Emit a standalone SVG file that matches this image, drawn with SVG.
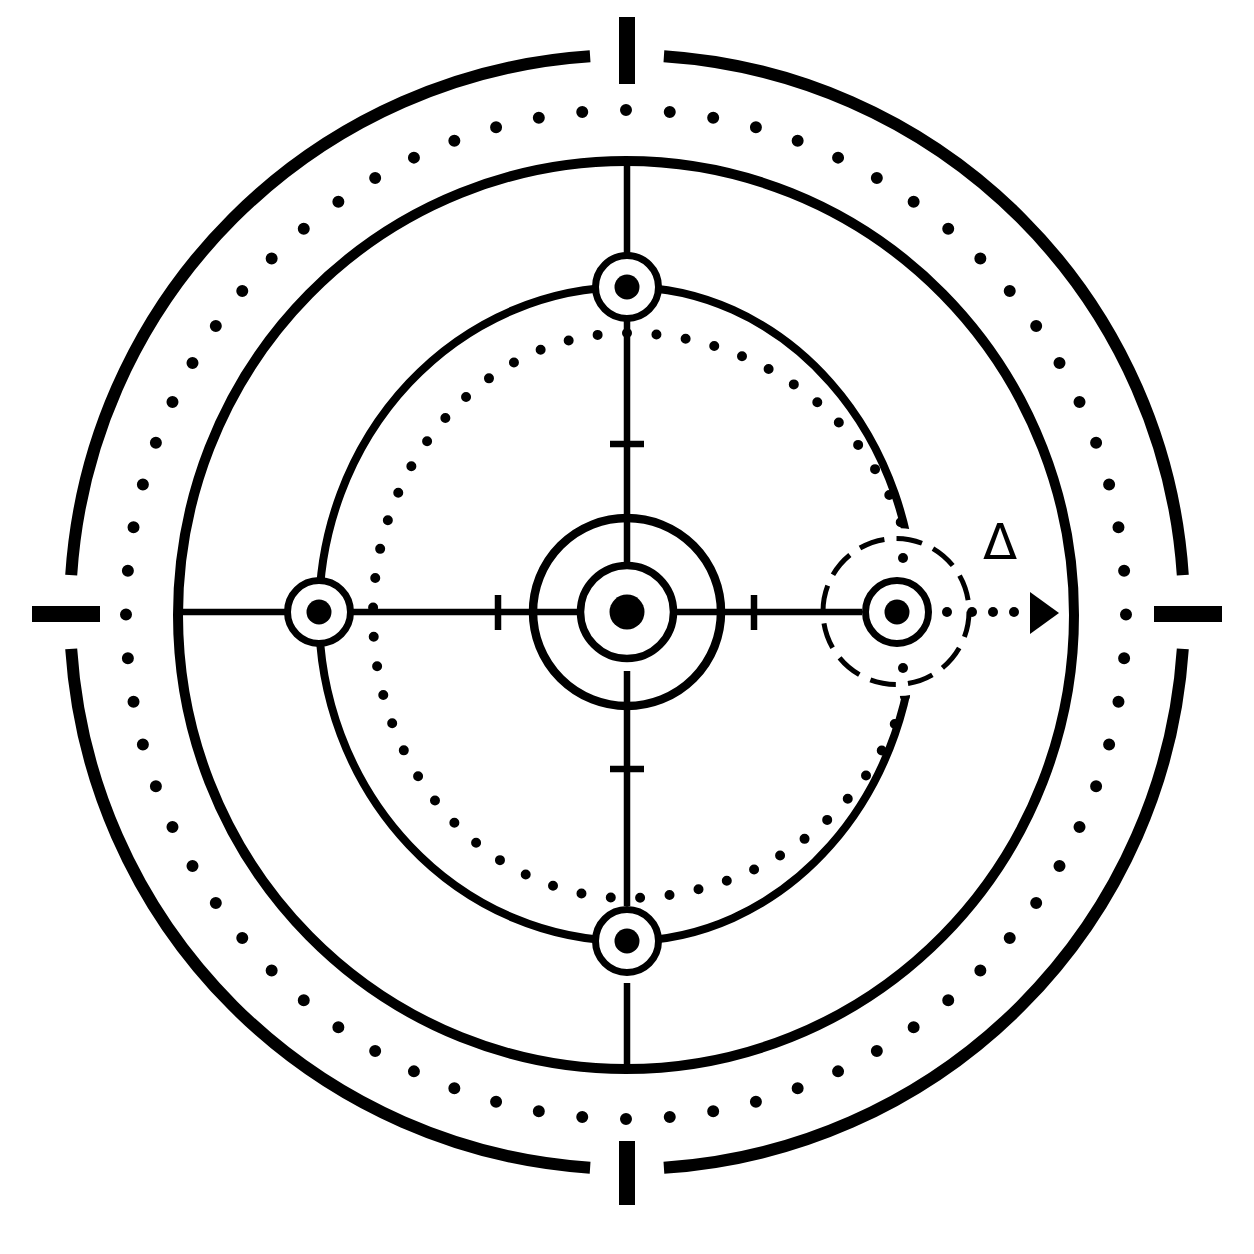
<svg xmlns="http://www.w3.org/2000/svg" width="1254" height="1254" viewBox="0 0 1254 1254">
  <style>
    .ln { fill: none; stroke: #000; stroke-linecap: butt; }
    .dots { fill: none; stroke: #000; stroke-linecap: round; stroke-dasharray: 0 1; }
    .ring { fill: #fff; stroke: #000; stroke-width: 7; }
    .tick { fill: #000; }
    .lbl { font-family: "DejaVu Sans", "Liberation Sans", sans-serif; font-size: 50px; fill: #000; }
  </style>
  <rect width="1254" height="1254" fill="#fff"/>

  <g id="outer-ring">
    <path class="ln" stroke-width="12" d="M663.9,56.2 A557,557 0 0 1 1182.8,575.1 M1182.8,648.9 A557,557 0 0 1 663.9,1167.8 M590.1,1167.8 A557,557 0 0 1 71.2,648.9 M71.2,575.1 A557,557 0 0 1 590.1,56.2"/>
    <rect class="tick" x="619" y="17" width="16" height="67"/>
    <rect class="tick" x="619" y="1141" width="16" height="64"/>
    <rect class="tick" x="32" y="606" width="68" height="16"/>
    <rect class="tick" x="1154" y="606" width="68" height="16"/>
  </g>

  <g id="outer-dotted-ring">
    <ellipse class="dots" cx="626" cy="614.5" rx="500" ry="504.5" pathLength="72" stroke-width="12"/>
  </g>

  <g id="middle-ring">
    <ellipse class="ln" cx="626" cy="615" rx="448" ry="454" stroke-width="10"/>
  </g>

  <g id="inner-orbit">
    <path class="ln" stroke-width="8" d="M627,287 A308,327 0 0 0 627,941 A288,327 0 0 0 627,287"/>
    <path class="dots" stroke-width="10" pathLength="59" d="M627,333 A254,282.5 0 0 0 627,898 A290,282.5 0 0 0 627,333"/>
  </g>

  <g id="connectors">
    <circle cx="897" cy="612" r="84" fill="#fff"/>
    <path class="ln" stroke-width="6.5" d="M627,162 V562 M627,671 V906 M627,983 V1070 M178,612 H580 M674,612 H862"/>
    <path class="ln" stroke-width="6.5" d="M498,595 V630 M754,595 V630 M610,444 H644 M610,769 H644"/>
  </g>

  <g id="center-node">
    <circle cx="627" cy="612" r="94" fill="none" stroke="#000" stroke-width="8.5"/>
    <circle cx="627" cy="612" r="46.5" fill="none" stroke="#000" stroke-width="7.5"/>
    <circle cx="627" cy="612" r="17.5" fill="#000"/>
  </g>

  <g id="node-top">
    <circle class="ring" cx="627" cy="287" r="31.5"/>
    <circle cx="627" cy="287" r="12.5" fill="#000"/>
  </g>
  <g id="node-left">
    <circle class="ring" cx="319" cy="612" r="31.5"/>
    <circle cx="319" cy="612" r="12.5" fill="#000"/>
  </g>
  <g id="node-bottom">
    <circle class="ring" cx="627" cy="941" r="31.5"/>
    <circle cx="627" cy="941" r="12.5" fill="#000"/>
  </g>

  <g id="node-right">
    <circle cx="896" cy="611.5" r="73" fill="none" stroke="#000" stroke-width="5" stroke-dasharray="26 12.22"/>
    <circle cx="903" cy="558" r="5" fill="#000"/>
    <circle cx="903" cy="668" r="5" fill="#000"/>
    <circle class="ring" cx="897" cy="612" r="31.5"/>
    <circle cx="897" cy="612" r="12.5" fill="#000"/>
  </g>

  <g id="motion-arrow">
    <circle cx="947" cy="612" r="5" fill="#000"/>
    <circle cx="972" cy="612" r="5" fill="#000"/>
    <circle cx="993" cy="612" r="5" fill="#000"/>
    <circle cx="1014" cy="612" r="5" fill="#000"/>
    <polygon points="1030,592 1030,634 1059,613" fill="#000"/>
    <text class="lbl" x="1000" y="559" text-anchor="middle">Δ</text>
  </g>
</svg>
